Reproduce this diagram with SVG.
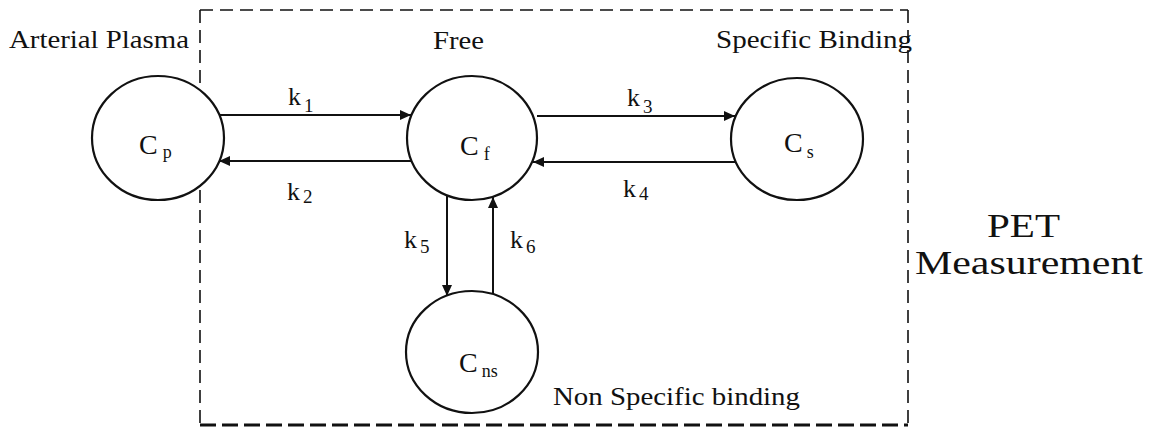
<svg xmlns="http://www.w3.org/2000/svg" width="1159" height="427" viewBox="0 0 1159 427">
<style>
  text { fill: #111; font-family: "Liberation Serif", "DejaVu Serif", "Times New Roman", Times, serif; }
  .lbl { font-size: 26px; }
  .c { font-size: 28px; }
  .sub { font-size: 18px; }
  .k { font-size: 26px; }
  .ks { font-size: 19px; }
  .node { fill: #fff; stroke: #111; stroke-width: 2.2; }
  .conn { stroke: #111; stroke-width: 2; fill: none; marker-end: url(#ah); }
  .dash { stroke: #111; stroke-width: 1.6; fill: none; stroke-dasharray: 13 7; }
  .dashb { stroke: #111; stroke-width: 3; fill: none; stroke-dasharray: 16 6; }
</style>
<defs>
  <marker id="ah" markerUnits="userSpaceOnUse" markerWidth="12" markerHeight="10" refX="11" refY="5" orient="auto">
    <path d="M0,0 L11,5 L0,10 Z" fill="#111"/>
  </marker>
</defs>
<rect width="1159" height="427" fill="#fff"/>

<g id="measurement-box">
  <path class="dash" d="M200,10 H908"/>
  <path class="dash" d="M200,10 V425" stroke-dasharray="11 7"/>
  <path class="dash" d="M908,10 V425" stroke-dasharray="11 7"/>
  <path class="dashb" d="M200,425 H908"/>
</g>

<g id="labels">
  <text class="lbl" x="9" y="48" textLength="180" lengthAdjust="spacingAndGlyphs">Arterial Plasma</text>
  <text class="lbl" x="433" y="49" textLength="51" lengthAdjust="spacingAndGlyphs">Free</text>
  <text class="lbl" x="716" y="48" textLength="196" lengthAdjust="spacingAndGlyphs">Specific Binding</text>
  <text class="lbl" x="553" y="405" textLength="247" lengthAdjust="spacingAndGlyphs">Non Specific binding</text>
  <text x="987" y="237" font-size="34" textLength="73" lengthAdjust="spacingAndGlyphs">PET</text>
  <text x="915" y="274" font-size="34" textLength="228" lengthAdjust="spacingAndGlyphs">Measurement</text>
</g>

<g id="connectors">
  <line class="conn" x1="219" y1="115" x2="411" y2="115"/>
  <line class="conn" x1="411" y1="161" x2="219" y2="161"/>
  <line class="conn" x1="537" y1="116" x2="735" y2="116"/>
  <line class="conn" x1="735" y1="162" x2="533" y2="162"/>
  <line class="conn" x1="447" y1="195" x2="447" y2="296"/>
  <line class="conn" x1="493" y1="294" x2="493" y2="197"/>
  <text class="k" x="288" y="105">k<tspan class="ks" dx="3" dy="7">1</tspan></text>
  <text class="k" x="287" y="200">k<tspan class="ks" dx="3" dy="3">2</tspan></text>
  <text class="k" x="627" y="106">k<tspan class="ks" dx="3" dy="7">3</tspan></text>
  <text class="k" x="623" y="197">k<tspan class="ks" dx="3" dy="3">4</tspan></text>
  <text class="k" x="404" y="248">k<tspan class="ks" dx="3" dy="5">5</tspan></text>
  <text class="k" x="510" y="248">k<tspan class="ks" dx="3" dy="5">6</tspan></text>
</g>

<g id="node-cp">
  <ellipse class="node" cx="158" cy="138" rx="66" ry="62"/>
  <text class="c" x="139" y="154">C<tspan class="sub" dx="5" dy="4">p</tspan></text>
</g>
<g id="node-cf">
  <ellipse class="node" cx="472" cy="138" rx="65" ry="62"/>
  <text class="c" x="460" y="155">C<tspan class="sub" dx="5" dy="5">f</tspan></text>
</g>
<g id="node-cs">
  <ellipse class="node" cx="797" cy="139" rx="66" ry="61"/>
  <text class="c" x="784" y="152">C<tspan class="sub" dx="4" dy="6">s</tspan></text>
</g>
<g id="node-cns">
  <ellipse class="node" cx="472" cy="352" rx="66" ry="61"/>
  <text class="c" x="459" y="372">C<tspan class="sub" dx="4" dy="5">ns</tspan></text>
</g>
</svg>
